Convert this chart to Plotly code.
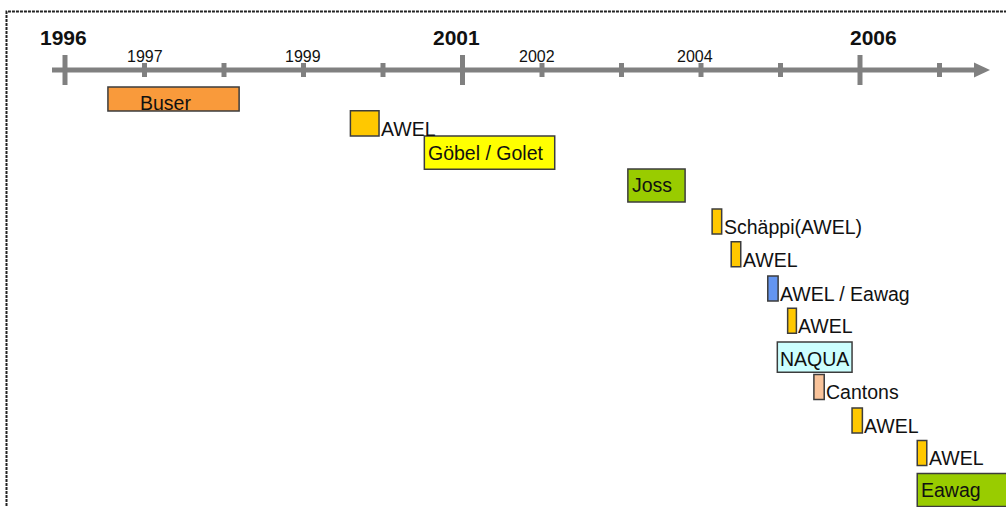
import plotly.graph_objects as go

# ---------------- data ----------------
labels = ["Buser", "AWEL", "Göbel / Golet", "Joss", "Schäppi(AWEL)", "AWEL",
          "AWEL / Eawag", "AWEL", "NAQUA", "Cantons", "AWEL", "AWEL", "Eawag"]
start_year = [1996.54, 1999.59, 2000.52, 2003.08, 2004.14, 2004.38,
              2004.84, 2005.09, 2004.96, 2005.42, 2005.90, 2006.72, 2006.72]
end_year = [1998.19, 1999.95, 2002.16, 2003.80, 2004.26, 2004.50,
            2004.97, 2005.20, 2005.90, 2005.55, 2006.03, 2006.84, 2008.00]
row = [0.0, 0.75, 1.65, 2.66, 3.77, 4.78, 5.83, 6.82, 7.94, 8.86, 9.89, 10.89, 12.03]

tick_years = [1996, 1997, 1998, 1999, 2000, 2001, 2002, 2003, 2004, 2005, 2006, 2007]
major_years = [1996, 2001, 2006]
minor_label_years = [1997, 1999, 2002, 2004]

# ---------------- styles ----------------
kind = ["slim", "tag", "box", "box", "tag", "tag", "tag", "tag", "mid", "tag", "tag", "tag", "box"]
BAR_HEIGHT = {"box": 1.02, "mid": 0.93, "tag": 0.77, "slim": 0.74}
ORANGE, GOLD, YELLOW, GREEN = "#F99A3B", "#FFC800", "#FFFF00", "#99CC00"
BLUE, CYAN, PEACH = "#6495F0", "#CCFFFF", "#F9C39A"
colors = [ORANGE, GOLD, YELLOW, GREEN, GOLD, GOLD, BLUE, GOLD, CYAN, PEACH, GOLD, GOLD, GREEN]
placement = ["center", "right", "left", "left", "right", "right", "right", "right",
             "center", "right", "right", "right", "left"]
center_xshift = {"Buser": -8, "NAQUA": 0}
inside_yshift = {"Buser": -4, "NAQUA": -2}
major_label_xshift = {1996: -2, 2001: -6, 2006: 13}
minor_label_xshift = {1997: 0, 1999: -1, 2002: -5, 2004: -6}

W, H = 1006, 507
PX_PER_YEAR = 79.5
PX_PER_ROW = 32.5
X0 = 1996 - 65 / PX_PER_YEAR
X1 = X0 + W / PX_PER_YEAR
Y_TOP = -99 / PX_PER_ROW
Y_BOT = Y_TOP + H / PX_PER_ROW


def dx(px):
    return px / PX_PER_YEAR


def dy(px):
    return px / PX_PER_ROW


AXIS_Y = Y_TOP + dy(70)
GRAY = "#808080"
FONT = "Liberation Sans, Arial, sans-serif"
LABEL_SIZE = 19.5

fig = go.Figure()

# timeline line and arrowhead
line_start = X0 + dx(52)
tip = X0 + dx(990)
fig.add_trace(go.Scatter(x=[line_start, tip - dx(14)], y=[AXIS_Y, AXIS_Y], mode="lines",
                         line=dict(color=GRAY, width=5), hoverinfo="skip", showlegend=False))
fig.add_trace(go.Scatter(x=[tip - dx(16), tip, tip - dx(16), tip - dx(16)],
                         y=[AXIS_Y - dy(7.5), AXIS_Y, AXIS_Y + dy(7.5), AXIS_Y - dy(7.5)],
                         mode="lines", fill="toself", fillcolor=GRAY,
                         line=dict(color=GRAY, width=0), hoverinfo="skip", showlegend=False))

shapes = []
for yr in tick_years:
    half = 15 if yr in major_years else 7
    shapes.append(dict(type="line", xref="x", yref="y", x0=yr, x1=yr,
                       y0=AXIS_Y - dy(half), y1=AXIS_Y + dy(half),
                       line=dict(color=GRAY, width=5)))

# dashed frame
shapes.append(dict(type="rect", xref="paper", yref="paper",
                   x0=6.5 / W, x1=1.05, y0=-0.05, y1=1 - 11.5 / H,
                   line=dict(color="#222222", width=2, dash="3px,1px"), layer="above"))

# bars
fig.add_trace(go.Bar(
    orientation="h",
    base=start_year,
    x=[e - s for s, e in zip(start_year, end_year)],
    y=row,
    width=[BAR_HEIGHT[k] for k in kind],
    marker=dict(color=colors, line=dict(color="#3C3C3C", width=1.5)),
    hoverinfo="skip", showlegend=False,
))

annotations = []
for lab, s, e, r, pl in zip(labels, start_year, end_year, row, placement):
    if pl == "right":
        annotations.append(dict(x=e, y=r, xref="x", yref="y", text=lab, showarrow=False,
                                xanchor="left", yanchor="middle", xshift=0, yshift=-5.5,
                                font=dict(family=FONT, size=LABEL_SIZE, color="#111111")))
    elif pl == "left":
        annotations.append(dict(x=s, y=r, xref="x", yref="y", text=lab, showarrow=False,
                                xanchor="left", yanchor="middle", xshift=2, yshift=0,
                                font=dict(family=FONT, size=LABEL_SIZE, color="#111111")))
    else:
        annotations.append(dict(x=(s + min(e, X1)) / 2, y=r, xref="x", yref="y", text=lab,
                                showarrow=False, xanchor="center", yanchor="middle",
                                xshift=center_xshift.get(lab, 0), yshift=inside_yshift.get(lab, 0),
                                font=dict(family=FONT, size=LABEL_SIZE, color="#111111")))

for yr in major_years:
    annotations.append(dict(x=yr, y=Y_TOP + dy(37.5), xref="x", yref="y", text=f"<b>{yr}</b>",
                            showarrow=False, xanchor="center", yanchor="middle",
                            xshift=major_label_xshift[yr],
                            font=dict(family=FONT, size=21, color="#111111")))
for yr in minor_label_years:
    annotations.append(dict(x=yr, y=Y_TOP + dy(56), xref="x", yref="y", text=str(yr),
                            showarrow=False, xanchor="center", yanchor="middle",
                            xshift=minor_label_xshift[yr],
                            font=dict(family=FONT, size=16, color="#111111")))

fig.update_layout(
    width=W, height=H,
    margin=dict(l=0, r=0, t=0, b=0),
    paper_bgcolor="white", plot_bgcolor="white",
    barmode="overlay",
    xaxis=dict(range=[X0, X1], visible=False, fixedrange=True),
    yaxis=dict(range=[Y_BOT, Y_TOP], visible=False, fixedrange=True),
    shapes=shapes,
    annotations=annotations,
    showlegend=False,
)

fig.write_html("out.html", config={"displayModeBar": False},
               post_script="document.body.style.margin='0px';document.body.style.overflow='hidden';")
